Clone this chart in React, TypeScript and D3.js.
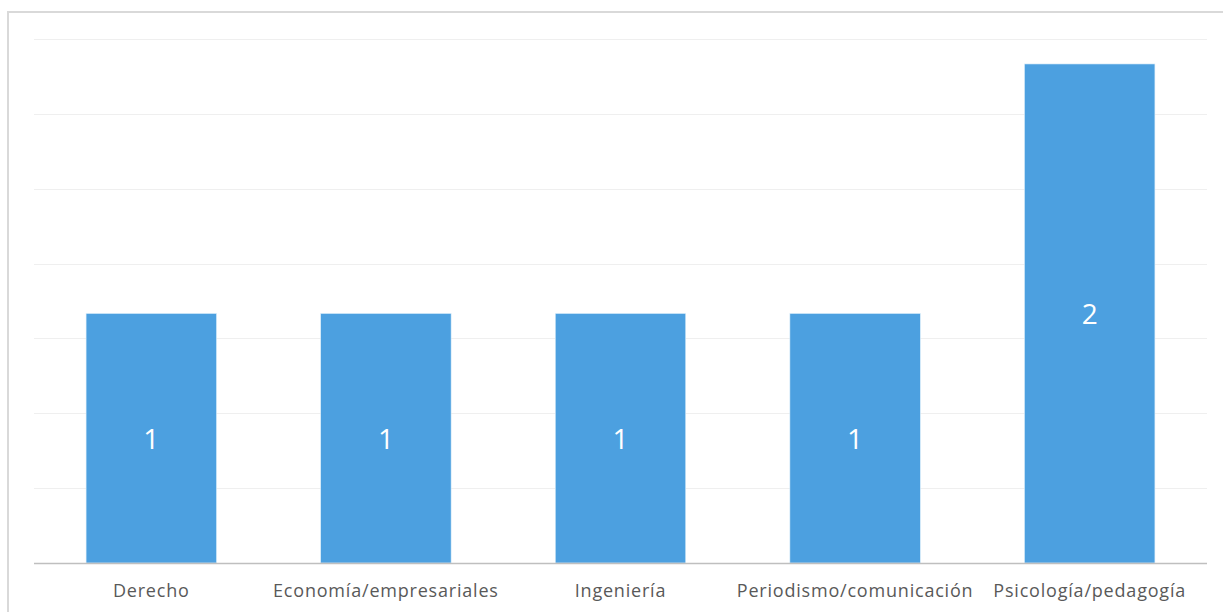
import React from "react";
import * as d3 from "d3";

const categories = ["Derecho", "Economía/empresariales", "Ingeniería", "Periodismo/comunicación", "Psicología/pedagogía"];
const values = [1, 1, 1, 1, 2];
const gridTicks = [0.3, 0.6, 0.9, 1.2, 1.5, 1.8, 2.1];

export default function App() {
  const W = 1223, H = 612;
  const left = 34, right = 1207, top = 39, bottom = 563;
  const x = d3.scaleBand<string>().domain(categories).range([left, right]).paddingInner(0.444).paddingOuter(0.222);
  const y = d3.scaleLinear().domain([0, 2.1]).range([bottom, top]);
  const font = "'Open Sans', sans-serif";
  return (
    <svg width={W} height={H} style={{ position: "absolute", left: 0, top: 0 }}>
      <rect x={0} y={0} width={W} height={H} fill="#fff" />
      <rect x={8} y={12} width={W + 10} height={H + 10} fill="#fff" stroke="#d9d9d9" strokeWidth={2} />
      {gridTicks.map((t) => (
        <line key={t} x1={left} x2={right} y1={Math.round(y(t)) + 0.5} y2={Math.round(y(t)) + 0.5} stroke="#efefef" strokeWidth={1} />
      ))}
      {categories.map((c, i) => (
        <g key={c}>
          <rect x={x(c)} y={y(values[i])} width={x.bandwidth()} height={bottom - y(values[i])} fill="#4ca0e0" stroke="#ddeefa" strokeWidth={0.6} />
          <text x={(x(c) as number) + x.bandwidth() / 2} y={(y(values[i]) + bottom) / 2} textAnchor="middle" dominantBaseline="central" fill="#fff" fontSize={28} fontFamily={font}>
            {values[i]}
          </text>
          <text x={(x(c) as number) + x.bandwidth() / 2} y={597} textAnchor="middle" fill="#595959" fontSize={18} letterSpacing={0.8} fontFamily={font}>
            {c}
          </text>
        </g>
      ))}
      <line x1={left} x2={right} y1={bottom + 0.5} y2={bottom + 0.5} stroke="#bfbfbf" strokeWidth={1.5} />
    </svg>
  );
}
